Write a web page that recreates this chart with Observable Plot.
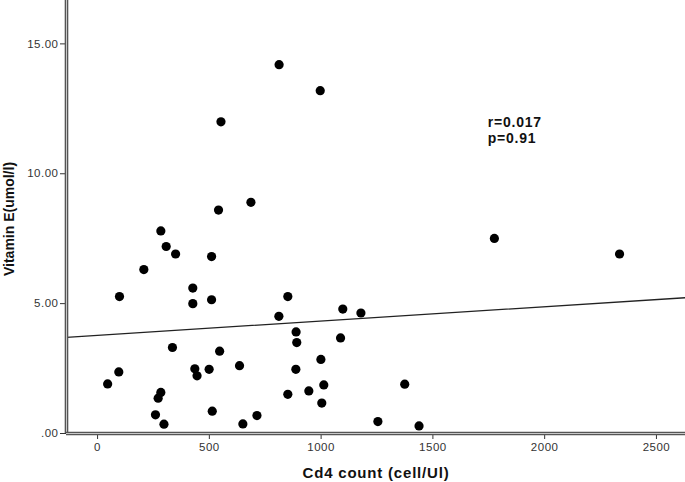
<!DOCTYPE html>
<html>
<head>
<meta charset="utf-8">
<script src="https://cdn.jsdelivr.net/npm/d3@7"></script>
<script src="https://cdn.jsdelivr.net/npm/@observablehq/plot@0.6"></script>
<style>
  html, body { margin: 0; padding: 0; background: #fff; }
  #chart svg { display: block; }
</style>
</head>
<body>
<div id="chart"></div>
<script>
// Cd4 count (cell/Ul)
const cd4 = [812, 996, 552, 541, 686, 283, 307, 349, 510, 207, 426, 98, 851, 426, 510, 811,
  1097, 1178, 888, 891, 1087, 335, 546, 95, 45, 435, 445, 499, 635, 887, 999, 1012, 945,
  851, 1003, 283, 271, 259, 297, 513, 650, 713, 1775, 2335, 1374, 1254, 1438];
// Vitamin E (umol/l)
const vitE = [14.2, 13.2, 12.0, 8.6, 8.9, 7.8, 7.2, 6.91, 6.81, 6.31, 5.6, 5.27, 5.27, 5.0, 5.15, 4.51,
  4.79, 4.64, 3.91, 3.5, 3.68, 3.31, 3.17, 2.37, 1.91, 2.49, 2.22, 2.47, 2.61, 2.47, 2.85, 1.87, 1.64,
  1.51, 1.17, 1.58, 1.36, 0.72, 0.36, 0.86, 0.37, 0.69, 7.51, 6.91, 1.90, 0.46, 0.29];
const xTicks = [0, 500, 1000, 1500, 2000, 2500];
const yTicks = [0, 5, 10, 15];
const xDomain = [-139, 2630];
const yDomain = [0, 16.67];
// fit line
const fitIntercept = 3.78;
const fitSlope = 0.00055;
const statsText = ["r=0.017", "p=0.91"];
const statsPos = {x: 1745, y: 12.21};
const xLabel = "Cd4 count (cell/Ul)";
const yLabel = "Vitamin E(umol/l)";

const points = cd4.map((x, i) => ({x, y: vitE[i]}));
const fit = xDomain.map(x => ({x, y: fitIntercept + fitSlope * x}));

const font = "'Liberation Sans', Arial, sans-serif";
const chart = Plot.plot({
  width: 685,
  height: 482,
  marginLeft: 66,
  marginRight: 0,
  marginTop: 0,
  marginBottom: 49,
  style: {fontFamily: font, background: "#fff", color: "#333", overflow: "visible"},
  x: {domain: xDomain},
  y: {domain: yDomain},
  marks: [
    Plot.line(fit, {x: "x", y: "y", stroke: "#222", strokeWidth: 1.3}),
    Plot.dot(points, {x: "x", y: "y", r: 4.6, fill: "#000", stroke: "none"}),
    Plot.axisY({ticks: yTicks, tickSize: 6, tickPadding: 2, fontSize: 11.5, fill: "#333",
      tickFormat: d => d === 0 ? ".00" : d.toFixed(2), label: null}),
    Plot.axisX({ticks: xTicks, tickSize: 6, tickPadding: 3, fontSize: 11.5, fill: "#333",
      tickFormat: d => String(d), label: null}),
    Plot.ruleX([xDomain[0]], {stroke: "#555", strokeWidth: 3.6}),
    Plot.ruleX([xDomain[0]], {stroke: "#c8c8c8", strokeWidth: 1}),
    Plot.ruleY([yDomain[0]], {stroke: "#555", strokeWidth: 3.6}),
    Plot.ruleY([yDomain[0]], {stroke: "#c8c8c8", strokeWidth: 1}),
    Plot.text([statsText.join("\n")], {x: statsPos.x, y: statsPos.y, text: d => d,
      textAnchor: "start", lineAnchor: "top", lineHeight: 1.1, fontSize: 14,
      fontWeight: "bold", fill: "#111"}),
    Plot.text([xLabel], {frameAnchor: "bottom", text: d => d, dy: 39.6, lineAnchor: "middle",
      textAnchor: "middle", fontSize: 15, fontWeight: "bold", fill: "#111"}),
    Plot.text([yLabel], {frameAnchor: "left", text: d => d, dx: -57, dy: 2, rotate: -90,
      textAnchor: "middle", lineAnchor: "middle", fontSize: 14, fontWeight: "bold", fill: "#111"})
  ]
});
// slightly wider letter spacing, as in the reference
const textGroups = chart.querySelectorAll('g[aria-label="text"]');
if (textGroups[0]) textGroups[0].setAttribute("letter-spacing", "0.8");
if (textGroups[1]) textGroups[1].setAttribute("letter-spacing", "0.8");
chart.querySelectorAll('g[aria-label="y-axis tick label"], g[aria-label="x-axis tick label"]')
  .forEach(g => g.setAttribute("letter-spacing", "0.5"));
document.getElementById("chart").appendChild(chart);
</script>
</body>
</html>
